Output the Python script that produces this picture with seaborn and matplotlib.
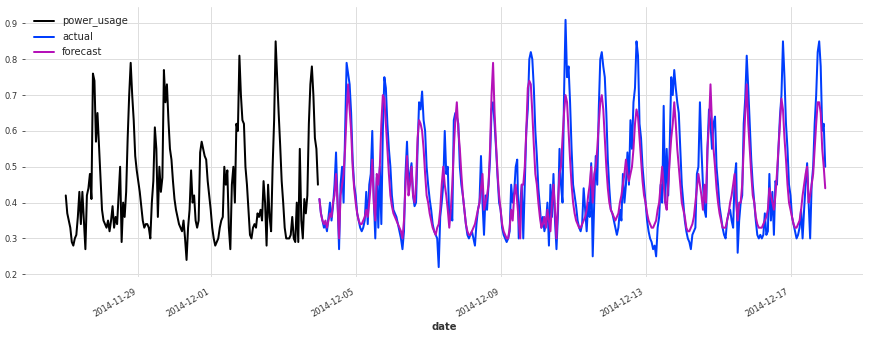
import matplotlib
matplotlib.use("Agg")
import matplotlib.pyplot as plt
import matplotlib.dates as mdates
import pandas as pd
import seaborn as sns

# hourly values
power_usage = [
    0.42, 0.37, 0.35, 0.33, 0.29, 0.28, 0.30, 0.31, 0.36, 0.43, 0.34, 0.43, 0.35, 0.27, 0.42, 0.44, 0.48, 0.41, 0.76, 0.74, 0.57, 0.65, 0.56, 0.47,
    0.38, 0.35, 0.34, 0.33, 0.35, 0.32, 0.35, 0.39, 0.33, 0.36, 0.34, 0.42, 0.50, 0.29, 0.40, 0.36, 0.43, 0.58, 0.70, 0.79, 0.70, 0.63, 0.53, 0.49,
    0.46, 0.43, 0.39, 0.35, 0.33, 0.34, 0.34, 0.33, 0.30, 0.40, 0.46, 0.61, 0.55, 0.36, 0.50, 0.43, 0.47, 0.77, 0.68, 0.73, 0.63, 0.55, 0.52, 0.46,
    0.41, 0.38, 0.36, 0.34, 0.33, 0.32, 0.35, 0.30, 0.24, 0.33, 0.38, 0.49, 0.40, 0.42, 0.35, 0.33, 0.35, 0.54, 0.57, 0.55, 0.53, 0.52, 0.46, 0.42,
    0.38, 0.33, 0.30, 0.28, 0.29, 0.30, 0.33, 0.35, 0.36, 0.50, 0.45, 0.49, 0.33, 0.27, 0.45, 0.50, 0.40, 0.62, 0.60, 0.81, 0.70, 0.63, 0.62, 0.50,
    0.45, 0.38, 0.31, 0.30, 0.33, 0.34, 0.33, 0.37, 0.36, 0.38, 0.35, 0.46, 0.40, 0.28, 0.45, 0.36, 0.32, 0.50, 0.63, 0.85, 0.75, 0.65, 0.56, 0.46,
    0.40, 0.33, 0.30, 0.30, 0.30, 0.31, 0.36, 0.30, 0.29, 0.40, 0.29, 0.55, 0.35, 0.30, 0.41, 0.37, 0.42, 0.62, 0.73, 0.78, 0.70, 0.58, 0.55, 0.45,
]

actual = [
    0.41, 0.37, 0.35, 0.33, 0.34, 0.32, 0.36, 0.40, 0.35, 0.39, 0.45, 0.54, 0.40, 0.27, 0.45, 0.50, 0.40, 0.60, 0.79, 0.76, 0.73, 0.65, 0.52, 0.45,
    0.42, 0.37, 0.35, 0.33, 0.32, 0.33, 0.35, 0.43, 0.34, 0.45, 0.48, 0.60, 0.41, 0.30, 0.47, 0.33, 0.50, 0.34, 0.60, 0.75, 0.72, 0.62, 0.55, 0.50,
    0.42, 0.38, 0.37, 0.36, 0.34, 0.32, 0.30, 0.27, 0.32, 0.48, 0.57, 0.45, 0.48, 0.51, 0.42, 0.39, 0.40, 0.55, 0.68, 0.66, 0.71, 0.63, 0.60, 0.50,
    0.45, 0.41, 0.38, 0.34, 0.32, 0.31, 0.30, 0.22, 0.36, 0.40, 0.45, 0.60, 0.48, 0.50, 0.35, 0.38, 0.35, 0.63, 0.65, 0.64, 0.62, 0.50, 0.45, 0.42,
    0.38, 0.34, 0.31, 0.30, 0.31, 0.32, 0.30, 0.28, 0.34, 0.38, 0.40, 0.53, 0.40, 0.31, 0.42, 0.38, 0.45, 0.52, 0.66, 0.68, 0.62, 0.55, 0.47, 0.40,
    0.38, 0.33, 0.31, 0.30, 0.29, 0.30, 0.32, 0.45, 0.40, 0.43, 0.50, 0.52, 0.30, 0.40, 0.45, 0.30, 0.45, 0.60, 0.66, 0.80, 0.82, 0.80, 0.72, 0.60,
    0.53, 0.44, 0.39, 0.33, 0.36, 0.32, 0.34, 0.40, 0.28, 0.45, 0.36, 0.48, 0.35, 0.27, 0.37, 0.55, 0.45, 0.40, 0.70, 0.91, 0.75, 0.78, 0.68, 0.55,
    0.45, 0.42, 0.39, 0.35, 0.33, 0.32, 0.34, 0.44, 0.38, 0.32, 0.40, 0.36, 0.51, 0.25, 0.40, 0.53, 0.45, 0.66, 0.80, 0.82, 0.78, 0.75, 0.65, 0.52,
    0.44, 0.38, 0.37, 0.35, 0.33, 0.31, 0.33, 0.38, 0.35, 0.48, 0.40, 0.45, 0.54, 0.45, 0.63, 0.55, 0.68, 0.72, 0.85, 0.81, 0.62, 0.58, 0.50, 0.45,
    0.40, 0.35, 0.32, 0.30, 0.29, 0.27, 0.28, 0.25, 0.33, 0.36, 0.45, 0.40, 0.67, 0.40, 0.55, 0.42, 0.56, 0.75, 0.70, 0.77, 0.72, 0.68, 0.65, 0.55,
    0.45, 0.40, 0.35, 0.32, 0.30, 0.29, 0.27, 0.31, 0.32, 0.33, 0.48, 0.50, 0.68, 0.55, 0.45, 0.38, 0.36, 0.55, 0.66, 0.62, 0.55, 0.62, 0.64, 0.50,
    0.45, 0.39, 0.36, 0.33, 0.31, 0.30, 0.35, 0.37, 0.38, 0.35, 0.33, 0.47, 0.51, 0.26, 0.35, 0.40, 0.42, 0.62, 0.69, 0.81, 0.72, 0.62, 0.52, 0.45,
    0.40, 0.35, 0.31, 0.30, 0.31, 0.30, 0.31, 0.37, 0.31, 0.32, 0.48, 0.35, 0.43, 0.31, 0.46, 0.45, 0.55, 0.64, 0.70, 0.85, 0.75, 0.62, 0.55, 0.45,
    0.42, 0.36, 0.34, 0.32, 0.30, 0.31, 0.33, 0.38, 0.30, 0.38, 0.45, 0.51, 0.40, 0.30, 0.45, 0.50, 0.62, 0.70, 0.82, 0.85, 0.78, 0.60, 0.62, 0.50,
]

forecast = [
    0.41, 0.37, 0.35, 0.34, 0.35, 0.33, 0.35, 0.37, 0.36, 0.40, 0.42, 0.48, 0.40, 0.30, 0.42, 0.45, 0.48, 0.55, 0.65, 0.73, 0.66, 0.60, 0.50, 0.44,
    0.40, 0.37, 0.35, 0.34, 0.34, 0.35, 0.36, 0.38, 0.36, 0.40, 0.45, 0.52, 0.40, 0.35, 0.48, 0.45, 0.50, 0.62, 0.70, 0.69, 0.62, 0.55, 0.48, 0.42,
    0.39, 0.37, 0.36, 0.35, 0.34, 0.33, 0.32, 0.30, 0.35, 0.45, 0.53, 0.42, 0.45, 0.50, 0.42, 0.40, 0.45, 0.58, 0.63, 0.62, 0.60, 0.55, 0.48, 0.42,
    0.40, 0.37, 0.35, 0.33, 0.32, 0.31, 0.33, 0.34, 0.38, 0.45, 0.50, 0.45, 0.42, 0.38, 0.33, 0.38, 0.45, 0.55, 0.63, 0.68, 0.60, 0.55, 0.48, 0.42,
    0.38, 0.34, 0.32, 0.31, 0.31, 0.32, 0.33, 0.34, 0.36, 0.38, 0.40, 0.44, 0.48, 0.38, 0.40, 0.42, 0.45, 0.55, 0.70, 0.79, 0.65, 0.56, 0.48, 0.42,
    0.38, 0.34, 0.32, 0.31, 0.30, 0.30, 0.33, 0.38, 0.35, 0.42, 0.45, 0.40, 0.35, 0.30, 0.45, 0.45, 0.50, 0.60, 0.72, 0.74, 0.73, 0.65, 0.56, 0.48,
    0.45, 0.40, 0.36, 0.33, 0.34, 0.36, 0.33, 0.38, 0.35, 0.32, 0.40, 0.45, 0.38, 0.30, 0.40, 0.48, 0.50, 0.58, 0.65, 0.70, 0.68, 0.60, 0.52, 0.45,
    0.40, 0.37, 0.35, 0.34, 0.33, 0.33, 0.34, 0.35, 0.36, 0.38, 0.42, 0.45, 0.50, 0.40, 0.48, 0.50, 0.55, 0.62, 0.68, 0.70, 0.66, 0.58, 0.50, 0.44,
    0.40, 0.38, 0.37, 0.36, 0.35, 0.36, 0.37, 0.40, 0.42, 0.45, 0.48, 0.52, 0.48, 0.46, 0.48, 0.50, 0.55, 0.62, 0.66, 0.64, 0.58, 0.52, 0.46, 0.42,
    0.40, 0.37, 0.35, 0.34, 0.33, 0.33, 0.34, 0.35, 0.38, 0.40, 0.45, 0.50, 0.45, 0.40, 0.38, 0.45, 0.52, 0.58, 0.62, 0.68, 0.62, 0.55, 0.50, 0.45,
    0.40, 0.38, 0.36, 0.33, 0.32, 0.32, 0.33, 0.34, 0.36, 0.40, 0.44, 0.48, 0.45, 0.42, 0.38, 0.45, 0.40, 0.55, 0.62, 0.73, 0.62, 0.55, 0.50, 0.44,
    0.40, 0.37, 0.35, 0.33, 0.33, 0.33, 0.35, 0.37, 0.40, 0.42, 0.45, 0.48, 0.40, 0.35, 0.40, 0.40, 0.45, 0.55, 0.65, 0.73, 0.62, 0.55, 0.48, 0.42,
    0.40, 0.36, 0.34, 0.33, 0.33, 0.33, 0.34, 0.35, 0.36, 0.38, 0.44, 0.42, 0.40, 0.38, 0.42, 0.48, 0.55, 0.62, 0.69, 0.66, 0.58, 0.52, 0.45, 0.40,
    0.38, 0.36, 0.34, 0.33, 0.33, 0.34, 0.35, 0.38, 0.42, 0.45, 0.48, 0.50, 0.40, 0.42, 0.45, 0.48, 0.55, 0.62, 0.68, 0.68, 0.65, 0.55, 0.50, 0.44,
]

train_dates = pd.date_range("2014-11-27", periods=len(power_usage), freq="h")
test_dates = pd.date_range("2014-12-04", periods=len(actual), freq="h")

sns.set_theme(style="whitegrid")
plt.rcParams.update({
    "font.family": ["DejaVu Sans"],
    "grid.color": "#dedede",
    "grid.linewidth": 1,
    "axes.labelcolor": "#333333",
    "axes.labelweight": "bold",
    "axes.labelsize": 10,
    "xtick.color": "#333333",
    "ytick.color": "#333333",
    "xtick.labelsize": 8.33,
    "ytick.labelsize": 8.33,
    "ytick.left": True,
    "ytick.major.size": 3.5,
    "ytick.major.width": 0.8,
    "xtick.bottom": False,
    "legend.frameon": False,
    "legend.fontsize": 10,
})

fig, ax = plt.subplots(figsize=(871 / 72, 339 / 72), dpi=72)
fig.subplots_adjust(left=0.0287, right=0.9908, top=0.979, bottom=0.183)

sns.lineplot(x=train_dates, y=power_usage, ax=ax, color="black", lw=2, label="power_usage")
sns.lineplot(x=test_dates, y=actual, ax=ax, color="#003DFD", lw=2, label="actual")
sns.lineplot(x=test_dates, y=forecast, ax=ax, color="#b512b8", lw=2, label="forecast")

sns.despine(left=True, bottom=True)
ax.set_xlim(pd.Timestamp("2014-11-25 21:00"), pd.Timestamp("2014-12-19 00:00"))
ax.set_ylim(0.1925, 0.9455)
ax.xaxis.set_major_locator(mdates.DayLocator(bymonthday=range(1, 32, 4)))
ax.xaxis.set_major_formatter(mdates.DateFormatter("%Y-%m-%d"))
plt.setp(ax.get_xticklabels(), rotation=30, ha="right")
ax.set_xlabel("date")
ax.set_ylabel("")
ax.legend(loc="upper left")

fig.savefig("out.png", dpi=72)
